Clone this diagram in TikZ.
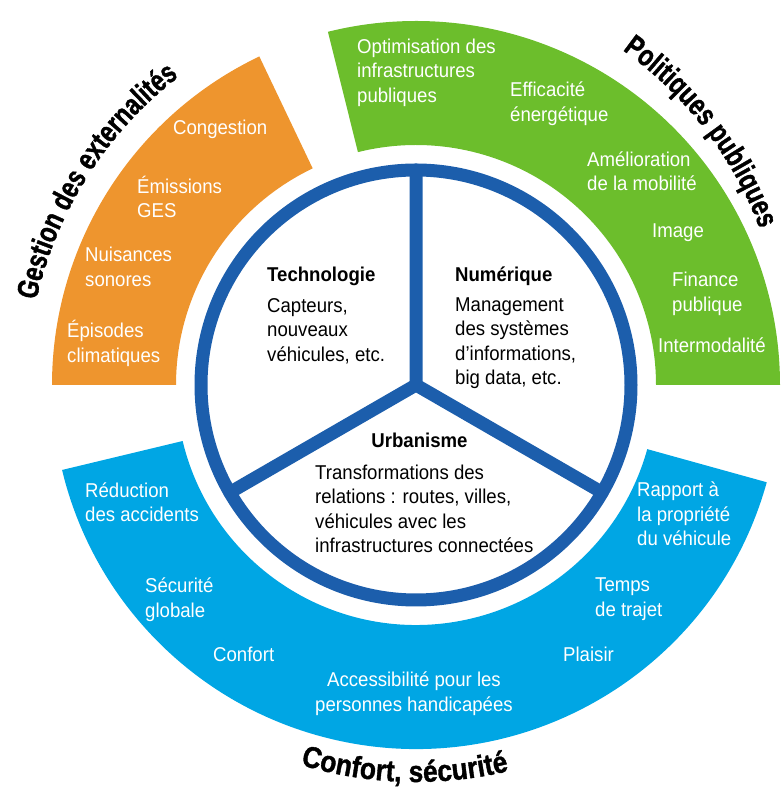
\documentclass[tikz,border=0pt]{standalone}
\usepackage{fontspec}
\setmainfont{Liberation Sans}[FakeStretch=0.93]
\newfontfamily\headfam{Liberation Sans Bold}[FakeStretch=0.78,FakeBold=1.2]
\newfontfamily\headwidefam{Liberation Sans Bold}[FakeStretch=0.88,FakeBold=1.2]
\usetikzlibrary{decorations.text}

\definecolor{extorange}{RGB}{238,149,46}
\definecolor{polgreen}{RGB}{108,190,44}
\definecolor{confblue}{RGB}{0,166,228}
\definecolor{ringblue}{RGB}{28,94,172}

\newcommand\lblfont{\fontsize{20}{24.5}\selectfont}
\newcommand\headfont{\headfam\fontsize{30}{32}\selectfont}
\newcommand\headwide{\headwidefam\fontsize{30}{32}\selectfont}
\newcommand\up{\rule{0pt}{19pt}}

\begin{document}
\begin{tikzpicture}[x=1pt,y=1pt,
  wlbl/.style={anchor=north west,align=left,inner sep=0pt,font=\lblfont,text=white},
  blbl/.style={wlbl,text=black},
  heading/.style 2 args={decorate,decoration={text along path,text align=center,text={|#1|#2}}}]
\useasboundingbox (0,0) rectangle (783,796);
\begin{scope}[shift={(416,411)}]
% the three outer bands
\fill[extorange] (115.5:240) arc(115.5:180:240) -- (180:364) arc(180:115.5:364) -- cycle;
\fill[polgreen] (0:240) arc(0:104:240) -- (104:364) arc(104:0:364) -- cycle;
\fill[confblue] (193.5:240) arc(193.5:344.5:240) -- (344.5:364) arc(344.5:193.5:364) -- cycle;
% inner wheel
\draw[ringblue,line width=13] (0,0) circle(215);
\draw[ringblue,line width=13,line cap=round] (0,0)--(90:215) (0,0)--(210:215) (0,0)--(330:215);
% titles along the rim
\path[heading={\headfont}{Gestion des externalités}] (177:389) arc(177:118:389);
\path[heading={\headwide}{Confort, sécurité}] (238.3:397) arc(238.3:298.3:397);
\end{scope}
\path[heading={\headfont}{Politiques publiques}] ([shift={(400,433)}]69.5:384) arc(69.5:5.5:384);

\node[wlbl] (congestion) at (173,680.5) {\up Congestion};
\node[wlbl] (emissions) at (137,622) {\up Émissions\\GES};
\node[wlbl] (nuisances) at (85,553.5) {\up Nuisances\\sonores};
\node[wlbl] (episodes) at (67,477.5) {\up Épisodes\\climatiques};

\node[wlbl] (optim) at (357,762) {\up Optimisation des\\infrastructures\\publiques};
\node[wlbl] (effic) at (510,718.5) {\up Efficacité\\énergétique};
\node[wlbl] (amelio) at (587,649) {\up Amélioration\\de la mobilité};
\node[wlbl] (image) at (652,577.5) {\up Image};
\node[wlbl] (finance) at (672,528.5) {\up Finance\\publique};
\node[wlbl] (intermod) at (658,462.5) {\up Intermodalité};

\node[wlbl] (reduc) at (85,318) {\up Réduction\\des accidents};
\node[wlbl] (secu) at (145,222.5) {\up Sécurité\\globale};
\node[wlbl] (confort) at (213,154) {\up Confort};
\node[wlbl,anchor=north,align=center] (access) at (414,128.5) {\up Accessibilité pour les\\personnes handicapées};
\node[wlbl] (plaisir) at (563,154) {\up Plaisir};
\node[wlbl] (temps) at (595,223.5) {\up Temps\\de trajet};
\node[wlbl] (rapport) at (637,318.5) {\up Rapport à\\la propriété\\du véhicule};

\node[blbl,font=\lblfont\bfseries] (techno) at (267,533.5) {\up Technologie};
\node[blbl] (capteurs) at (267,503) {\up Capteurs,\\nouveaux\\véhicules, etc.};
\node[blbl,font=\lblfont\bfseries] (numer) at (455,533.5) {\up Numérique};
\node[blbl] (manag) at (455,504) {\up Management\\des systèmes\\d’informations,\\big data, etc.};
\node[blbl,font=\lblfont\bfseries,anchor=north] (urba) at (419.5,367.5) {\up Urbanisme};
\node[blbl] (transfo) at (315,336) {\up Transformations des\\relations : routes, villes,\\véhicules avec les\\infrastructures connectées};
\end{tikzpicture}
\end{document}
